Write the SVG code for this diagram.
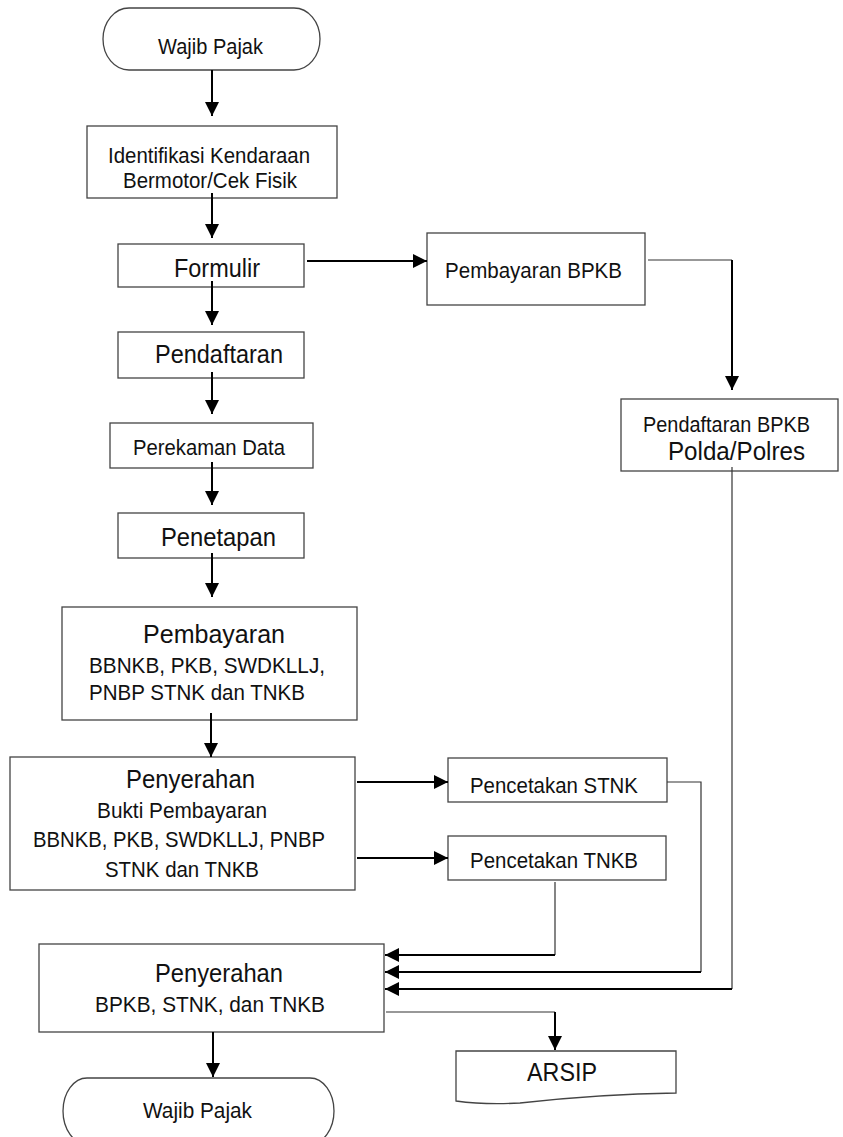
<svg xmlns="http://www.w3.org/2000/svg" width="843" height="1137" viewBox="0 0 843 1137">
<style>
.box{fill:#fff;stroke:#444;stroke-width:1.3}
.t{font-family:"Liberation Sans",Arial,sans-serif;fill:#111;font-size:22.5px}
.b{font-size:25px}
.arr{fill:none;stroke:#000;stroke-width:2}
.thin{fill:none;stroke:#333;stroke-width:1.2}
</style>
<defs>
<marker id="ah" markerUnits="userSpaceOnUse" markerWidth="15" markerHeight="15" refX="14" refY="7" orient="auto">
<path d="M0,0 L14,7 L0,14 z" fill="#000"/>
</marker>
</defs>
<rect width="843" height="1137" fill="#fff"/>
<g id="wajib-pajak-top">
<rect class="box" x="103" y="8" width="217" height="62" rx="26" ry="31"/>
<text class="t" x="158" y="54" textLength="105" lengthAdjust="spacingAndGlyphs">Wajib Pajak</text>
</g>
<g id="identifikasi">
<rect class="box" x="87" y="126" width="250" height="72"/>
<text class="t" x="108" y="163" textLength="202" lengthAdjust="spacingAndGlyphs">Identifikasi Kendaraan</text>
<text class="t" x="123" y="188" textLength="174" lengthAdjust="spacingAndGlyphs">Bermotor/Cek Fisik</text>
</g>
<g id="formulir">
<rect class="box" x="118" y="244" width="186" height="43"/>
<text class="t b" x="174" y="277" textLength="86" lengthAdjust="spacingAndGlyphs">Formulir</text>
</g>
<g id="pendaftaran">
<rect class="box" x="118" y="332" width="186" height="46"/>
<text class="t b" x="155" y="363" textLength="128" lengthAdjust="spacingAndGlyphs">Pendaftaran</text>
</g>
<g id="perekaman">
<rect class="box" x="110" y="423" width="203" height="45"/>
<text class="t" x="133" y="455" textLength="152" lengthAdjust="spacingAndGlyphs">Perekaman Data</text>
</g>
<g id="penetapan">
<rect class="box" x="118" y="513" width="186" height="45"/>
<text class="t b" x="161" y="546" textLength="115" lengthAdjust="spacingAndGlyphs">Penetapan</text>
</g>
<g id="pembayaran">
<rect class="box" x="62" y="607" width="295" height="113"/>
<text class="t b" x="143" y="643" textLength="142" lengthAdjust="spacingAndGlyphs">Pembayaran</text>
<text class="t" x="89" y="673" textLength="236" lengthAdjust="spacingAndGlyphs">BBNKB,  PKB,  SWDKLLJ,</text>
<text class="t" x="89" y="700" textLength="216" lengthAdjust="spacingAndGlyphs">PNBP STNK dan TNKB</text>
</g>
<g id="penyerahan-bukti">
<rect class="box" x="10" y="757" width="345" height="133"/>
<text class="t b" x="126" y="788" textLength="129" lengthAdjust="spacingAndGlyphs">Penyerahan</text>
<text class="t" x="97" y="818" textLength="170" lengthAdjust="spacingAndGlyphs">Bukti  Pembayaran</text>
<text class="t" x="33" y="847" textLength="292" lengthAdjust="spacingAndGlyphs">BBNKB,  PKB,  SWDKLLJ,  PNBP</text>
<text class="t" x="105" y="877" textLength="154" lengthAdjust="spacingAndGlyphs">STNK dan TNKB</text>
</g>
<g id="penyerahan-bpkb">
<rect class="box" x="39" y="944" width="345" height="88"/>
<text class="t b" x="155" y="982" textLength="128" lengthAdjust="spacingAndGlyphs">Penyerahan</text>
<text class="t" x="95" y="1012" textLength="230" lengthAdjust="spacingAndGlyphs">BPKB,  STNK,  dan  TNKB</text>
</g>
<g id="wajib-pajak-bottom">
<rect class="box" x="63" y="1078" width="271" height="66" rx="24" ry="33"/>
<text class="t" x="143" y="1118" textLength="109" lengthAdjust="spacingAndGlyphs">Wajib Pajak</text>
</g>
<g id="pembayaran-bpkb">
<rect class="box" x="427" y="233" width="218" height="72"/>
<text class="t" x="445" y="278" textLength="177" lengthAdjust="spacingAndGlyphs">Pembayaran  BPKB</text>
</g>
<g id="pendaftaran-bpkb">
<rect class="box" x="621" y="399" width="217" height="72"/>
<text class="t" x="643" y="432" textLength="167" lengthAdjust="spacingAndGlyphs">Pendaftaran BPKB</text>
<text class="t b" x="668" y="460" textLength="137" lengthAdjust="spacingAndGlyphs">Polda/Polres</text>
</g>
<g id="pencetakan-stnk">
<rect class="box" x="448" y="758" width="219" height="44"/>
<text class="t" x="470" y="793" textLength="168" lengthAdjust="spacingAndGlyphs">Pencetakan  STNK</text>
</g>
<g id="pencetakan-tnkb">
<rect class="box" x="448" y="836" width="218" height="44"/>
<text class="t" x="470" y="868" textLength="168" lengthAdjust="spacingAndGlyphs">Pencetakan  TNKB</text>
</g>
<g id="arsip">
<path class="box" d="M456,1051 H676 V1093 Q600,1094 520,1103 Q485,1105 456,1101 Z"/>
<text class="t b" x="527" y="1081" textLength="70" lengthAdjust="spacingAndGlyphs">ARSIP</text>
</g>
<g id="connectors">
<path class="arr" d="M212,70 V116" marker-end="url(#ah)"/>
<path class="arr" d="M212,193 V238" marker-end="url(#ah)"/>
<path class="arr" d="M212,281 V325" marker-end="url(#ah)"/>
<path class="arr" d="M212,372 V414" marker-end="url(#ah)"/>
<path class="arr" d="M212,462 V505" marker-end="url(#ah)"/>
<path class="arr" d="M212,553 V597" marker-end="url(#ah)"/>
<path class="arr" d="M211,713 V757" marker-end="url(#ah)"/>
<path class="arr" d="M307,261 H427" marker-end="url(#ah)"/>
<path class="thin" d="M648,260 H732"/>
<path class="arr" d="M732,260 V390" marker-end="url(#ah)"/>
<path class="arr" d="M357,782 H448" marker-end="url(#ah)"/>
<path class="arr" d="M357,858 H448" marker-end="url(#ah)"/>
<path class="thin" d="M555,882 V955"/>
<path class="arr" d="M555,955 H385" marker-end="url(#ah)"/>
<path class="thin" d="M667,782 H701 V972"/>
<path class="arr" d="M701,972 H385" marker-end="url(#ah)"/>
<path class="thin" d="M732,467 V989"/>
<path class="arr" d="M732,989 H385" marker-end="url(#ah)"/>
<path class="thin" d="M386,1012 H555"/>
<path class="arr" d="M555,1012 V1050" marker-end="url(#ah)"/>
<path class="arr" d="M213,1032 V1077" marker-end="url(#ah)"/>
</g>
</svg>
